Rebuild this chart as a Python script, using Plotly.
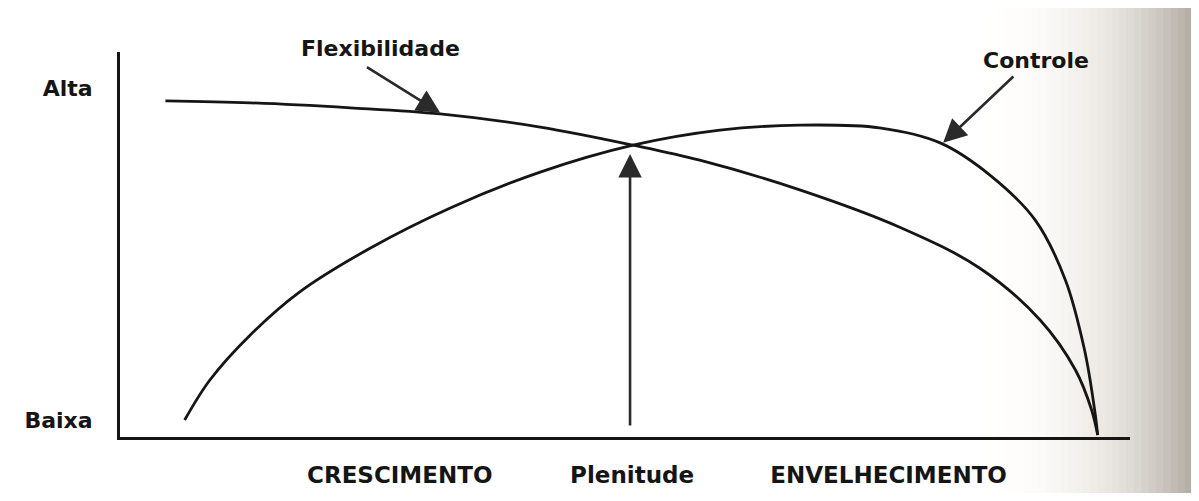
import plotly.graph_objects as go

# life-cycle position (0-100) and level (0 = Baixa, 100 = Alta)
flex_x = [4.5, 12.9, 22.8, 31.7, 41.6, 50.8, 57.4, 67.3, 77.2, 85.1, 91.1, 94.6, 96.2, 96.8]
flex_y = [87.3, 86.8, 85.5, 83.9, 80.5, 75.8, 71.9, 64.2, 54.5, 43.9, 30.4, 17.4, 7.0, 0.5]

ctrl_x = [6.4, 8.9, 12.9, 17.8, 24.8, 32.7, 41.6, 50.8, 59.4, 67.3, 75.2, 81.2, 86.1, 90.6, 93.6, 95.5, 96.5, 96.8]
ctrl_y = [4.4, 14.8, 26.5, 37.7, 49.1, 59.5, 68.8, 75.8, 79.7, 81.0, 80.3, 76.4, 68.1, 56.4, 40.8, 22.6, 7.0, 0.5]

stage_labels = ['CRESCIMENTO', 'Plenitude', 'ENVELHECIMENTO']
stage_pos = [27.7, 50.7, 76.1]
level_labels = ['Alta', 'Baixa']
level_pos = [90.6, 4.4]

INK = '#151515'
FONT = 'DejaVu Sans'

fig = go.Figure()
fig.add_trace(go.Scatter(x=flex_x, y=flex_y, mode='lines', line=dict(color=INK, width=2.8, shape='spline'),
                         name='Flexibilidade', hoverinfo='skip'))
fig.add_trace(go.Scatter(x=ctrl_x, y=ctrl_y, mode='lines', line=dict(color=INK, width=2.8, shape='spline'),
                         name='Controle', hoverinfo='skip'))

# callout arrows
arrows = [
    dict(x=31.7, y=84.2, ax=24.3, ay=96.3),   # Flexibilidade
    dict(x=81.5, y=76.4, ax=88.6, ay=94.0),   # Controle
    dict(x=50.5, y=73.5, ax=50.5, ay=2.6),    # Plenitude
]
for a in arrows:
    fig.add_annotation(x=a['x'], y=a['y'], ax=a['ax'], ay=a['ay'], xref='x', yref='y', axref='x', ayref='y',
                       text='', showarrow=True, arrowhead=2, arrowsize=1.8, arrowwidth=2.6, arrowcolor='#2a2a2a')

fig.add_annotation(x=0.258, y=1.008, xref='paper', yref='paper', xanchor='center', yanchor='middle',
                   text='<b>Flexibilidade</b>', showarrow=False, font=dict(family=FONT, size=22, color=INK))
fig.add_annotation(x=0.907, y=0.979, xref='paper', yref='paper', xanchor='center', yanchor='middle',
                   text='<b>Controle</b>', showarrow=False, font=dict(family=FONT, size=22, color=INK))

# page-binding shadow on the right edge
n = 30
for i in range(n):
    p0 = 980 + i * 220 / n
    p1 = p0 + 220 / n + 1
    t = (i + 0.5) / n
    g = 255 - 85 * t ** 2.5
    fig.add_shape(type='rect', xref='paper', yref='paper', x0=(p0 - 120) / 1010, x1=(p1 - 120) / 1010,
                  y0=-0.3, y1=1.3, line=dict(width=0),
                  fillcolor=f'rgb({g:.0f},{g - 6 * t:.0f},{g - 14 * t:.0f})', layer='below')

fig.update_layout(
    width=1183, height=485,
    margin=dict(l=112, r=61, t=44, b=56),
    plot_bgcolor='rgba(0,0,0,0)', paper_bgcolor='white',
    showlegend=False,
    xaxis=dict(range=[0, 100], showgrid=False, zeroline=False, showline=True, linecolor=INK, linewidth=3,
               automargin=False, tickvals=stage_pos, ticktext=[f'<b>{t}</b>' for t in stage_labels], ticks='',
               ticklabelstandoff=15, tickfont=dict(family=FONT, size=23, color=INK)),
    yaxis=dict(range=[0, 100], showgrid=False, zeroline=False, showline=True, linecolor=INK, linewidth=3,
               automargin=False, tickvals=level_pos, ticktext=[f'<b>{t}</b>' for t in level_labels], ticks='',
               ticklabelstandoff=20, tickfont=dict(family=FONT, size=22, color=INK)),
)

fig.write_html('out.html')
